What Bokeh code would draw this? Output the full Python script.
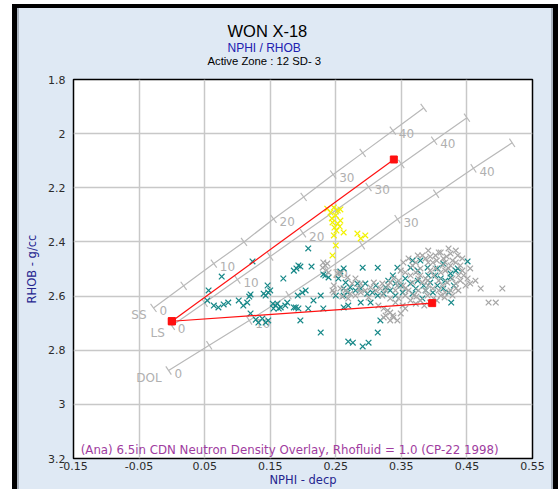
from bokeh.plotting import figure
from bokeh.models import Range1d, FixedTicker, Label, Title
from bokeh.core.properties import value
from bokeh.embed import file_html
from bokeh.resources import INLINE

# ---------------- data ----------------
x_ticks = [-0.15, -0.05, 0.05, 0.15, 0.25, 0.35, 0.45, 0.55]
x_tick_labels = ["-0.15", "-0.05", "0.05", "0.15", "0.25", "0.35", "0.45", "0.55"]
y_ticks = [1.8, 2.0, 2.2, 2.4, 2.6, 2.8, 3.0, 3.2]
y_tick_labels = ["1.8", "2", "2.2", "2.4", "2.6", "2.8", "3", "3.2"]

# lithology overlay lines (porosity ticks every 5 p.u. from 0 to 45)
por_labels = ["0", "", "10", "", "20", "", "30", "", "40", ""]
ss_nphi = [-0.028, 0.018, 0.064, 0.110, 0.155, 0.201, 0.246, 0.291, 0.337, 0.384]
ss_rhob = [2.644, 2.562, 2.480, 2.400, 2.315, 2.234, 2.151, 2.071, 1.989, 1.905]
ls_nphi = [0.0, 0.05, 0.10, 0.15, 0.20, 0.25, 0.30, 0.35, 0.40, 0.45]
ls_rhob = [2.71, 2.625, 2.539, 2.454, 2.368, 2.283, 2.197, 2.112, 2.026, 1.941]
dol_nphi = [-0.005, 0.057, 0.118, 0.178, 0.236, 0.290, 0.344, 0.403, 0.460, 0.519]
dol_rhob = [2.875, 2.782, 2.690, 2.597, 2.504, 2.412, 2.316, 2.222, 2.128, 2.034]
litho_names = ["SS", "LS", "DOL"]

# red lines (apex -> two ends)
red_nphi = [0.0, 0.3385, 0.0, 0.397]
red_rhob = [2.693, 2.0955, 2.693, 2.626]

# yellow points
yel_nphi = [0.237, 0.247, 0.253, 0.242, 0.257, 0.250, 0.245, 0.253, 0.257, 0.248,
            0.256, 0.262, 0.247, 0.250, 0.245, 0.283, 0.295, 0.288, 0.244, 0.251]
yel_rhob = [2.277, 2.273, 2.284, 2.291, 2.280, 2.302, 2.328, 2.332, 2.321, 2.347,
            2.343, 2.365, 2.376, 2.413, 2.450, 2.369, 2.376, 2.387, 2.313, 2.358]

# teal points
teal_nphi = [0.076, 0.056, 0.054, 0.064, 0.071, 0.079, 0.086, 0.102, 0.109, 0.120,
             0.118, 0.115, 0.123, 0.146, 0.147, 0.143, 0.140, 0.150, 0.154, 0.161,
             0.158, 0.163, 0.155, 0.166, 0.176, 0.173, 0.189, 0.170, 0.190, 0.193,
             0.196, 0.186, 0.213, 0.208, 0.192, 0.199, 0.204, 0.193, 0.186, 0.216,
             0.208, 0.231, 0.231, 0.234, 0.239, 0.257, 0.254, 0.262, 0.269, 0.250,
             0.120, 0.128, 0.132, 0.138, 0.143, 0.147, 0.196, 0.227, 0.269, 0.276,
             0.291, 0.300, 0.314, 0.318, 0.291, 0.314, 0.344, 0.262, 0.272, 0.280,
             0.288, 0.298, 0.306, 0.314, 0.323, 0.333, 0.341, 0.268, 0.262, 0.367,
             0.379, 0.364, 0.375, 0.390, 0.356, 0.364, 0.375, 0.384, 0.394, 0.402,
             0.410, 0.405, 0.414, 0.425, 0.433, 0.352, 0.367, 0.382, 0.405, 0.414,
             0.426, 0.451, 0.430, 0.425, 0.436, 0.262, 0.288, 0.303, 0.337, 0.349,
             0.387, 0.398, 0.417, 0.422, 0.391, 0.372, 0.341, 0.326, 0.311, 0.295,
             0.283, 0.330, 0.265, 0.227]
teal_rhob = [2.528, 2.579, 2.616, 2.635, 2.642, 2.631, 2.624, 2.616, 2.635, 2.594,
             2.602, 2.624, 2.472, 2.561, 2.587, 2.598, 2.591, 2.579, 2.628, 2.628,
             2.635, 2.646, 2.646, 2.642, 2.624, 2.635, 2.642, 2.535, 2.498, 2.487,
             2.491, 2.506, 2.491, 2.424, 2.598, 2.587, 2.579, 2.646, 2.642, 2.616,
             2.646, 2.646, 2.520, 2.524, 2.531, 2.509, 2.535, 2.598, 2.635, 2.598,
             2.664, 2.687, 2.698, 2.683, 2.698, 2.690, 2.690, 2.735, 2.768, 2.772,
             2.786, 2.772, 2.735, 2.690, 2.495, 2.495, 2.495, 2.498, 2.568, 2.579,
             2.572, 2.591, 2.587, 2.598, 2.591, 2.579, 2.554, 2.587, 2.572, 2.469,
             2.469, 2.495, 2.506, 2.495, 2.535, 2.554, 2.543, 2.561, 2.550, 2.524,
             2.535, 2.498, 2.480, 2.517, 2.506, 2.587, 2.591, 2.609, 2.561, 2.572,
             2.624, 2.472, 2.561, 2.531, 2.498, 2.642, 2.624, 2.624, 2.524, 2.561,
             2.579, 2.587, 2.543, 2.587, 2.524, 2.572, 2.598, 2.568, 2.561, 2.554,
             2.554, 2.543, 2.550, 2.598]

# gray points
gray_nphi = [0.231, 0.237, 0.234, 0.230, 0.239, 0.253, 0.257, 0.268, 0.280, 0.288,
             0.308, 0.321, 0.333, 0.344, 0.247, 0.257, 0.245, 0.247,
             0.323, 0.329, 0.337, 0.344, 0.323, 0.333, 0.326, 0.338, 0.333, 0.349,
             0.315, 0.356,
             0.375, 0.391, 0.410, 0.425, 0.436, 0.414, 0.402, 0.422, 0.433, 0.443,
             0.387, 0.398, 0.417,
             0.451, 0.455, 0.471, 0.504, 0.433, 0.483, 0.494, 0.463,
             0.349, 0.356, 0.364, 0.372, 0.379, 0.387, 0.394, 0.402, 0.410, 0.417,
             0.425, 0.433, 0.440, 0.443, 0.437, 0.428, 0.420, 0.413, 0.407, 0.398,
             0.391, 0.382, 0.376, 0.369, 0.361, 0.353, 0.346, 0.338, 0.330, 0.326,
             0.318, 0.311, 0.303, 0.295, 0.288, 0.280, 0.272, 0.265, 0.260, 0.269,
             0.364, 0.372, 0.379, 0.390, 0.399, 0.410, 0.417, 0.425, 0.433, 0.440,
             0.407, 0.387, 0.356, 0.346, 0.341, 0.352, 0.333, 0.379, 0.391, 0.404,
             0.367,
             0.353, 0.361, 0.372, 0.382, 0.394, 0.407, 0.419, 0.428, 0.422, 0.413,
             0.399, 0.390, 0.376, 0.367, 0.356, 0.373, 0.385, 0.394, 0.404, 0.416,
             0.428, 0.437, 0.448, 0.445, 0.455, 0.341, 0.321, 0.300, 0.285, 0.275]
gray_rhob = [2.476, 2.480, 2.487, 2.495, 2.513, 2.517, 2.517, 2.531, 2.535, 2.554,
             2.550, 2.554, 2.550, 2.561, 2.587, 2.572, 2.579, 2.561,
             2.646, 2.653, 2.672, 2.690, 2.679, 2.661, 2.672, 2.679, 2.690, 2.664,
             2.635, 2.646,
             2.450, 2.432, 2.439, 2.443, 2.450, 2.461, 2.450, 2.424, 2.432, 2.461,
             2.461, 2.476, 2.476,
             2.535, 2.554, 2.572, 2.572, 2.572, 2.624, 2.624, 2.543,
             2.506, 2.513, 2.524, 2.513, 2.524, 2.535, 2.506, 2.498, 2.513, 2.506,
             2.487, 2.476, 2.487, 2.506, 2.524, 2.535, 2.550, 2.561, 2.579, 2.572,
             2.561, 2.550, 2.579, 2.598, 2.579, 2.561, 2.543, 2.535, 2.561, 2.579,
             2.572, 2.579, 2.568, 2.579, 2.587, 2.598, 2.591, 2.579, 2.602, 2.609,
             2.616, 2.628, 2.616, 2.598, 2.609, 2.598, 2.587, 2.579, 2.554, 2.543,
             2.543, 2.579, 2.598, 2.609, 2.624, 2.635, 2.609, 2.498, 2.476, 2.469,
             2.487,
             2.476, 2.461, 2.476, 2.450, 2.454, 2.439, 2.454, 2.469, 2.498, 2.487,
             2.524, 2.543, 2.535, 2.550, 2.572, 2.602, 2.635, 2.624, 2.616, 2.605,
             2.598, 2.579, 2.561, 2.524, 2.498, 2.579, 2.598, 2.605, 2.572, 2.554]

# ---------------- styles ----------------
BG = "#dfe9f4"
GRID = "#c8c8c8"
LITHO = "#b9b9b9"
LITHO_TXT = "#b0b0b0"
TEAL = "#178888"
GRAY = "#a6a6a6"
YELLOW = "#f2f200"
RED = "#ff1010"
NAVY = "#25258f"
FONT = "DejaVu Sans"
TFONT = "Liberation Sans"

p = figure(width=546, height=485,
           x_range=Range1d(-0.15, 0.55), y_range=Range1d(3.2, 1.8),
           output_backend="svg", toolbar_location=None,
           min_border_left=61, min_border_right=26, min_border_top=75, min_border_bottom=31,
           background_fill_color="white", border_fill_color=None)
p.styles = {"margin-left": "12px", "margin-top": "4px",
            "background-color": BG,
            "box-shadow": ("inset 5px 4px 0 0 black, inset -5px 0 0 0 black, "
                           "inset 7px 0 0 0 #aab4bf, inset -7px 0 0 0 #aab4bf")}

p.outline_line_color = "black"
p.outline_line_width = 1.5

for ax in (p.xaxis[0], p.yaxis[0]):
    ax.axis_line_color = None
    ax.major_tick_line_color = None
    ax.minor_tick_line_color = None
    ax.major_tick_out = 0
    ax.major_tick_in = 0
    ax.minor_tick_out = 0
    ax.minor_tick_in = 0
    ax.major_label_text_font = FONT
    ax.major_label_text_font_size = "11px"
    ax.major_label_text_color = "#2b2b2b"
    ax.axis_label_text_font = FONT
    ax.axis_label_text_font_size = "11.5px"
    ax.axis_label_text_font_style = "normal"
    ax.axis_label_text_color = NAVY

p.xaxis.ticker = FixedTicker(ticks=x_ticks)
p.xaxis.major_label_overrides = dict(zip(x_ticks, x_tick_labels))
p.xaxis.major_label_standoff = 3
p.xaxis.axis_label = "NPHI - decp"
p.xaxis.axis_label_standoff = 0

p.yaxis.ticker = FixedTicker(ticks=y_ticks)
p.yaxis.major_label_overrides = dict(zip(y_ticks, y_tick_labels))
p.yaxis.major_label_standoff = 8
p.yaxis.axis_label = "RHOB - g/cc"
p.yaxis.axis_label_standoff = 6

p.grid.grid_line_color = GRID
p.grid.grid_line_width = 1.5

# titles: main title is outermost; added titles stack outward from the frame
p.title.text = "WON X-18"
p.title.text_font = TFONT
p.title.text_font_size = "16.5px"
p.title.text_font_style = "normal"
p.title.text_color = "black"
p.title.align = "left"
p.title.offset = 154
p.title.standoff = 4
p.add_layout(Title(text=" ", text_font_size="1px", standoff=9), "above")
p.add_layout(Title(text="Active Zone : 12  SD- 3", text_font=TFONT, text_font_size="11.3px",
                   text_font_style="normal", text_color="black", align="left",
                   offset=134, standoff=2), "above")
nphi_title = Title(text="NPHI / RHOB", text_font=TFONT, text_font_size="12px",
                   text_font_style="normal", text_color="#2020b0", align="left",
                   offset=154, standoff=0)
try:
    nphi_title.standoff = -6
except Exception:
    nphi_title.standoff = 0
p.add_layout(nphi_title, "above")

# lithology lines
tick_angles = [126.4, 125.4, 123.4]
for name, xs, ys, ang in zip(litho_names, [ss_nphi, ls_nphi, dol_nphi],
                             [ss_rhob, ls_rhob, dol_rhob], tick_angles):
    p.line(xs, ys, line_color=LITHO, line_width=1.2)
    p.scatter(xs, ys, marker="dash", size=10, angle=ang, angle_units="deg",
              line_color=LITHO, line_width=1.2)
    p.text(xs, ys, text=por_labels, x_offset=6, y_offset=3,
           text_align="left", text_baseline="middle",
           text_font=value(FONT), text_font_size="12px", text_color=LITHO_TXT)
    p.text([xs[0]], [ys[0]], text=[name], x_offset=-7, y_offset=7,
           text_align="right", text_baseline="middle",
           text_font=value(FONT), text_font_size="12px", text_color=LITHO_TXT)

# scatter data
p.scatter(teal_nphi, teal_rhob, marker="x", size=8, line_color=TEAL, line_width=1.2)
p.scatter(gray_nphi, gray_rhob, marker="x", size=8, line_color=GRAY, line_width=1.2)
p.scatter(yel_nphi, yel_rhob, marker="x", size=8, line_color=YELLOW, line_width=1.2)

# red lines and squares
p.line(red_nphi[0:2], red_rhob[0:2], line_color=RED, line_width=1.2)
p.line(red_nphi[2:4], red_rhob[2:4], line_color=RED, line_width=1.2)
p.scatter(red_nphi, red_rhob, marker="square", size=7, fill_color=RED, line_color=RED)

# chart note inside the frame
p.add_layout(Label(x=-0.139, y=3.167,
                   text="(Ana) 6.5in CDN Neutron Density Overlay, Rhofluid = 1.0 (CP-22 1998)",
                   text_align="left", text_baseline="middle", text_font=FONT,
                   text_font_size="11.8px", text_color="#a03ca0"))

open("out.html", "w").write(file_html(p, INLINE))
